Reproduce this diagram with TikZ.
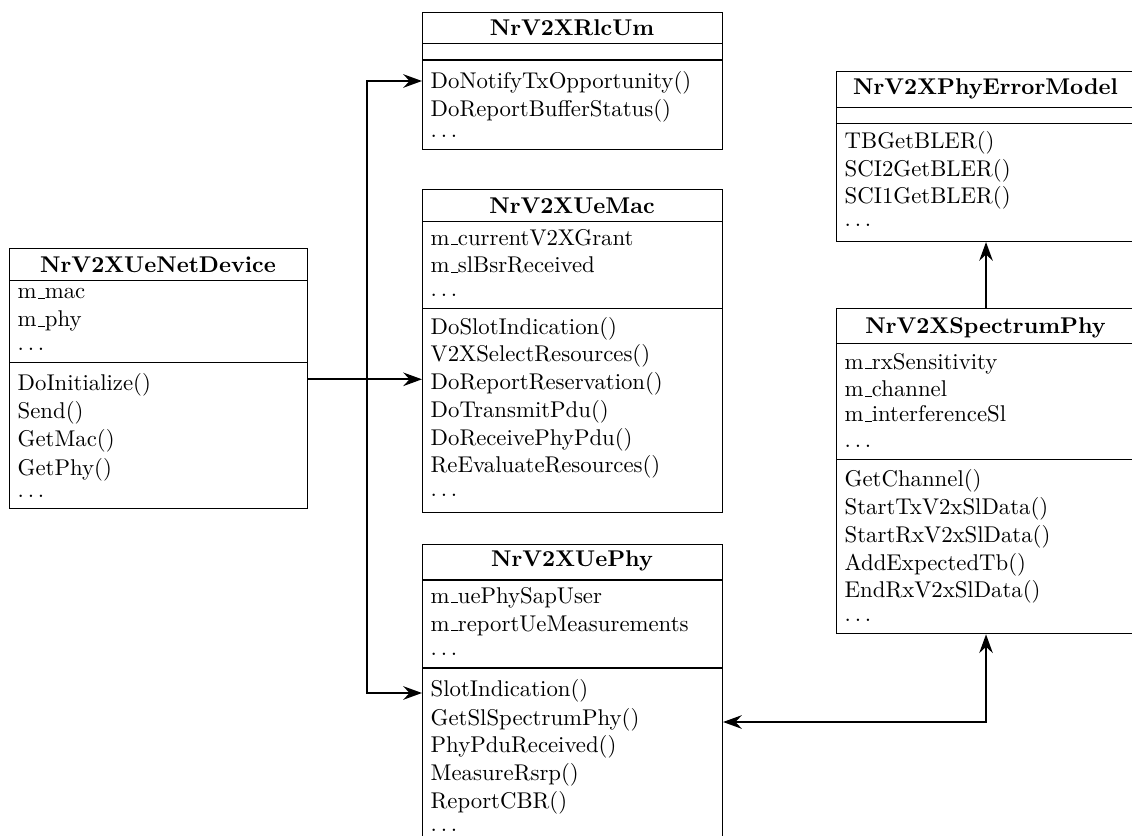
\documentclass[tikz,border=0pt]{standalone}
\usetikzlibrary{arrows.meta}
\newcommand{\umllines}[3]{%
  \foreach \yv/\lbl [count=\i] in {#3} {\node[txt] (#1\i) at (#2,\yv) {\lbl};}}
\newcommand{\usc}{\leavevmode\kern.06em\vbox{\hrule width.3em}}
\newcommand{\dts}{$\ldots$}
\tikzset{
  box/.style={draw, line width=0.5pt, inner sep=0pt, anchor=north west},
  ttl/.style={font=\fontsize{10.95}{13.6}\selectfont\bfseries, inner sep=0pt, anchor=base},
  txt/.style={font=\fontsize{10.95}{13.6}\selectfont, inner sep=0pt, anchor=base west},
  sepline/.style={line width=0.5pt},
  conn/.style={line width=1pt},
  >={Stealth[length=9pt,width=6.5pt,inset=3pt]}
}
\begin{document}
\begin{tikzpicture}[x=0.4808pt, y=-0.4808pt]
\useasboundingbox (0,0) rectangle (1132,836);

% NrV2XUeNetDevice
\node[box, minimum width=298*0.4808pt, minimum height=260*0.4808pt] (dev) at (9,248.3) {};
\node[ttl] (devt) at (158,272.3) {NrV2XUeNetDevice};
\draw[sepline] (9,280.7) -- (307,280.7);
\draw[sepline] (9,362.7) -- (307,362.7);
\umllines{deva}{17.3}{299/m\usc mac, 326.7/m\usc phy, 350/\dts}
\umllines{devm}{17.3}{390.7/DoInitialize(), 418.3/Send(), 446.7/GetMac(), 475/GetPhy(), 497.3/\dts}

% NrV2XRlcUm
\node[box, minimum width=300*0.4808pt, minimum height=136.7*0.4808pt] (rlc) at (422,12.3) {};
\node[ttl] (rlct) at (572,35.7) {NrV2XRlcUm};
\draw[sepline] (422,43.3) -- (722,43.3);
\draw[sepline] (422,60) -- (722,60);
\umllines{rlcm}{430.3}{88.3/DoNotifyTxOpportunity(), 116.7/DoReportBufferStatus(), 137.3/\dts}

% NrV2XUeMac
\node[box, minimum width=300*0.4808pt, minimum height=322.4*0.4808pt] (mac) at (422,189.3) {};
\node[ttl] (mact) at (572,213.3) {NrV2XUeMac};
\draw[sepline] (422,221.7) -- (722,221.7);
\draw[sepline] (422,308.3) -- (722,308.3);
\umllines{maca}{430.3}{245/m\usc currentV2XGrant, 272.7/m\usc slBsrReceived, 296.7/\dts}
\umllines{macm}{430.3}{334/DoSlotIndication(), 361.7/V2XSelectResources(), 389.3/DoReportReservation(), 417.3/DoTransmitPdu(), 445/DoReceivePhyPdu(), 472.7/ReEvaluateResources(), 496.7/\dts}

% NrV2XUePhy
\node[box, minimum width=300*0.4808pt, minimum height=328*0.4808pt] (phy) at (422,544) {};
\node[ttl] (phyt) at (572,566.7) {NrV2XUePhy};
\draw[sepline] (422,580) -- (722,580);
\draw[sepline] (422,668) -- (722,668);
\umllines{phya}{430.3}{603.3/m\usc uePhySapUser, 631/m\usc reportUeMeasurements, 655/\dts}
\umllines{phym}{430.3}{696.7/SlotIndication(), 725/GetSlSpectrumPhy(), 752.7/PhyPduReceived(), 780.7/MeasureRsrp(), 808.3/ReportCBR(), 831/\dts}

% NrV2XPhyErrorModel
\node[box, minimum width=299*0.4808pt, minimum height=170.3*0.4808pt] (em) at (836,70.7) {};
\node[ttl] (emt) at (985.5,94.3) {NrV2XPhyErrorModel};
\draw[sepline] (836,107.7) -- (1135,107.7);
\draw[sepline] (836,123.3) -- (1135,123.3);
\umllines{emm}{844.3}{148.3/TBGetBLER(), 176/SCI2GetBLER(), 203.3/SCI1GetBLER(), 226.7/\dts}

% NrV2XSpectrumPhy
\node[box, minimum width=299*0.4808pt, minimum height=325*0.4808pt] (sp) at (836,308.3) {};
\node[ttl] (spt) at (985.5,333.3) {NrV2XSpectrumPhy};
\draw[sepline] (836,343.3) -- (1135,343.3);
\draw[sepline] (836,459.3) -- (1135,459.3);
\umllines{spa}{844.3}{369/m\usc rxSensitivity, 396.7/m\usc channel, 421.7/m\usc interferenceSl, 447.7/\dts}
\umllines{spm}{844.3}{486.7/GetChannel(), 514.3/StartTxV2xSlData(), 542.3/StartRxV2xSlData(), 570/AddExpectedTb(), 597.7/EndRxV2xSlData(), 621.7/\dts}

% connectors
\coordinate (jt) at (367,81);
\coordinate (jm) at (367,379.3);
\coordinate (jb) at (367,693);
\coordinate (jr) at (986,722);
\draw[conn,->] (dev.east |- jm) -- (mac.west |- jm);
\draw[conn,<->] (rlc.west |- jt) -- (jt) -- (jb) -- (phy.west |- jb);
\draw[conn,->] (sp.north) -- (em.south);
\draw[conn,<->] (phy.east |- jr) -| (sp.south);
\end{tikzpicture}
\end{document}
